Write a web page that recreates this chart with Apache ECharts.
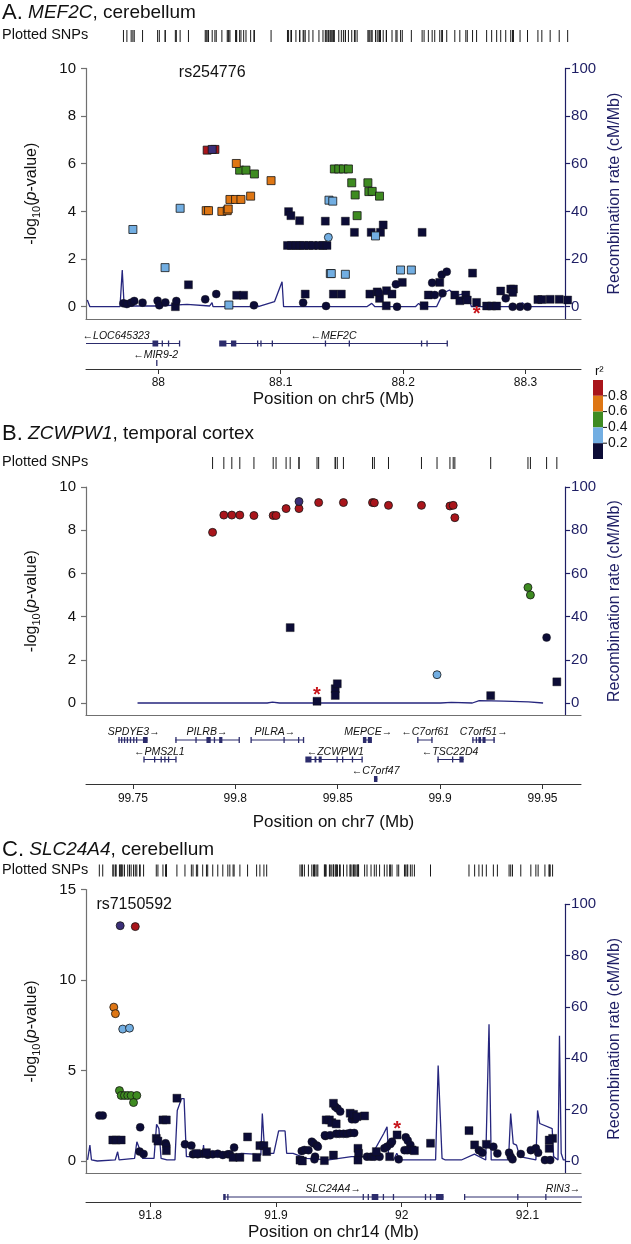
<!DOCTYPE html>
<html><head><meta charset="utf-8">
<script src="https://cdn.jsdelivr.net/npm/echarts@6/dist/echarts.min.js"></script>
<style>html,body{margin:0;padding:0;background:#fff}#c{width:631px;height:1244px}</style>
</head><body><div id="c"></div>
<script>
// ---------------- DATA ----------------
// points: [position (Mb), -log10 p, shape (1 = square, 0 = circle)]
const A_LEAD = [[88.0440, 6.60, 1]];
const A_RED = [[88.0399, 6.57, 1], [88.0462, 6.60, 1]];
const A_ORANGE = [[88.0637,6.01,1],[88.0921,5.29,1],[88.0585,4.50,1],[88.0631,4.50,1],[88.0675,4.50,1],[88.0754,4.64,1],[88.0391,4.03,1],[88.0410,4.03,1],[88.0519,4.00,1],[88.0563,4.03,1],[88.0571,4.10,1]];
const A_GREEN = [[88.0664,5.73,1],[88.0716,5.73,1],[88.0785,5.57,1],[88.1438,5.78,1],[88.1474,5.78,1],[88.1512,5.78,1],[88.1553,5.78,1],[88.1580,5.20,1],[88.1608,4.69,1],[88.1624,3.82,1],[88.1712,5.20,1],[88.1720,4.83,1],[88.1747,4.84,1],[88.1807,4.64,1]];
const A_BLUE = [[87.9792,3.24,1],[88.0178,4.13,1],[88.0055,1.64,1],[88.0576,0.07,1],[88.1394,4.47,1],[88.1425,4.43,1],[88.1405,1.39,1],[88.1413,1.39,1],[88.1528,1.36,1],[88.1774,2.97,1],[88.1979,1.54,1],[88.2067,1.54,1],[88.1389,2.91,0]];
const A_NAVY = [[88.1064,3.99,1],[88.1083,3.82,1],[88.1154,3.61,1],[88.1364,3.59,1],[88.1528,3.59,1],[88.1602,3.12,1],[88.1739,3.12,1],[88.1815,3.12,1],[88.2155,3.12,1],[88.1837,3.43,1],
 [88.1055,2.57,1],[88.1088,2.57,1],[88.1124,2.57,1],[88.1156,2.57,1],[88.1189,2.57,1],[88.1230,2.57,1],[88.1263,2.57,1],[88.1312,2.57,1],[88.1345,2.57,1],[88.1378,2.57,1],
 [88.0246,0.92,1],[88.0640,0.48,1],[88.0697,0.48,1],[88.0139,0.00,1],[88.1200,0.53,1],[88.1430,0.53,1],[88.1495,0.53,1],[88.1728,0.53,1],[88.1788,0.62,1],[88.1807,0.35,1],[88.1864,0.67,1],[88.1909,0.53,1],[88.1993,1.02,1],[88.1862,0.04,1],[88.2171,0.04,1],[88.2206,0.49,1],[88.2299,1.02,1],[88.2422,0.49,1],[88.2463,0.25,1],[88.2512,0.49,1],[88.2524,0.28,1],[88.2567,1.41,1],[88.2600,0.18,1],[88.2682,0.03,1],[88.2723,0.03,1],[88.2764,0.03,1],[88.2797,0.66,1],[88.2879,0.74,1],[88.2901,0.74,1],[88.2895,0.60,1],[88.3101,0.30,1],[88.3133,0.30,1],[88.3201,0.31,1],[88.3275,0.31,1],[88.3344,0.28,1],
 [87.9715,0.14,0],[87.9743,0.11,0],[87.9778,0.17,0],[87.9803,0.24,0],[87.9871,0.17,0],[87.9994,0.25,0],[88.0008,0.06,0],[88.0057,0.18,0],[88.0147,0.24,0],[88.0383,0.31,0],[88.0473,0.53,0],[88.0781,0.06,0],[88.1183,0.17,0],[88.1370,0.03,0],[88.1802,0.59,0],[88.1941,0.94,0],[88.2237,1.00,0],[88.2258,0.49,0],[88.2321,0.56,0],[88.2315,1.34,0],[88.2356,1.47,0],[88.1950,0.00,0],[88.2838,0.35,0],[88.2895,0.00,0],[88.2955,0.00,0],[88.3016,0.00,0]];
const A_STAR = [[88.2600, -0.17]];
const A_RECOMB = [[87.9420,2.8],[87.9442,0],[87.9696,0],[87.9715,15.4],[87.9731,0.3],[88.0016,0.3],[88.0262,1.0],[88.0453,0.3],[88.0473,1.7],[88.0481,0],[88.0836,0],[88.0850,1.4],[88.0863,0],[88.1000,2.1],[88.1064,10.5],[88.1077,0],[88.1779,0],[88.1821,1.4],[88.1848,0],[88.2190,0],[88.2217,1.4],[88.2245,0],[88.2368,0],[88.2422,5.6],[88.2477,7.0],[88.2532,4.6],[88.2586,5.3],[88.2627,5.6],[88.2663,0],[88.3051,0],[88.3092,1.7],[88.3133,0],[88.3450,0]];
const A_GENES = [
 {name:'LOC645323', start:87.9409, end:88.0173, strand:-1, row:0, label:87.9655, exons:[[87.9957,87.9999],[88.0032,88.0032],[88.0083,88.0083],[88.0173,88.0173]]},
 {name:'MIR9-2', start:87.9987, end:87.9989, strand:-1, row:1, label:87.9978, exons:[[87.9987,87.9989]]},
 {name:'MEF2C', start:88.0502, end:88.2360, strand:-1, row:0, label:88.1431, exons:[[88.0502,88.0556],[88.0598,88.0637],[88.0811,88.0811],[88.0838,88.0838],[88.0931,88.0931],[88.1365,88.1365],[88.1560,88.1560],[88.2150,88.2150],[88.2195,88.2195],[88.2360,88.2360]]}
];

const B_LEAD = [[99.8311, 9.33, 0]];
const B_RED = [[99.7889,7.90,0],[99.7944,8.70,0],[99.7983,8.70,0],[99.8022,8.70,0],[99.8091,8.68,0],[99.8185,8.68,0],[99.8199,8.68,0],[99.8248,9.00,0],[99.8311,9.00,0],[99.8407,9.28,0],[99.8528,9.28,0],[99.8670,9.28,0],[99.8679,9.27,0],[99.8748,9.15,0],[99.8909,9.15,0],[99.9048,9.12,0],[99.9064,9.15,0],[99.9072,8.58,0]];
const B_ORANGE = [];
const B_GREEN = [[99.9429,5.35,0],[99.9441,5.00,0]];
const B_BLUE = [[99.8985,1.31,0]];
const B_NAVY = [[99.8268,3.49,1],[99.8399,0.08,1],[99.8488,0.66,1],[99.8488,0.35,1],[99.8498,0.89,1],[99.9247,0.34,1],[99.9520,3.03,0],[99.9570,0.98,1]];
const B_STAR = [[99.8399, 0.54]];
const B_RECOMB = [[99.7531,0],[99.8185,0],[99.8212,0.4],[99.8247,0],[99.9060,0],[99.9114,0.3],[99.9220,0],[99.9255,1.1],[99.9379,0.9],[99.9503,0.5],[99.9577,0]];
const B_GENES = [
 {name:'SPDYE3', start:99.7427, end:99.7572, strand:1, row:0, label:99.7504, exons:[[99.7432,99.7432],[99.7445,99.7445],[99.7459,99.7459],[99.7473,99.7473],[99.7488,99.7488],[99.7504,99.7504],[99.7518,99.7518],[99.7552,99.7572]]},
 {name:'PILRB', start:99.7706, end:99.8019, strand:1, row:0, label:99.7862, exons:[[99.7710,99.7710],[99.7808,99.7808],[99.7862,99.7880],[99.7898,99.7898],[99.7924,99.7937],[99.8019,99.8019]]},
 {name:'PILRA', start:99.8077, end:99.8333, strand:1, row:0, label:99.8193, exons:[[99.8077,99.8077],[99.8238,99.8238],[99.8309,99.8309],[99.8333,99.8333]]},
 {name:'MEPCE', start:99.8626, end:99.8667, strand:1, row:0, label:99.8649, exons:[[99.8626,99.8640],[99.8650,99.8667]]},
 {name:'C7orf61', start:99.8891, end:99.8963, strand:-1, row:0, label:99.8927, exons:[[99.8891,99.8891],[99.8960,99.8963]]},
 {name:'C7orf51', start:99.9156, end:99.9267, strand:1, row:0, label:99.9213, exons:[[99.9160,99.9160],[99.9177,99.9180],[99.9190,99.9200],[99.9210,99.9222],[99.9263,99.9267]]},
 {name:'PMS2L1', start:99.7554, end:99.7710, strand:-1, row:1, label:99.7629, exons:[[99.7554,99.7554],[99.7606,99.7606],[99.7638,99.7638],[99.7656,99.7656],[99.7674,99.7674],[99.7710,99.7710]]},
 {name:'ZCWPW1', start:99.8345, end:99.8619, strand:-1, row:1, label:99.8488, exons:[[99.8345,99.8372],[99.8390,99.8396],[99.8410,99.8422],[99.8497,99.8497],[99.8524,99.8524],[99.8572,99.8572],[99.8619,99.8619]]},
 {name:'TSC22D4', start:99.8986, end:99.9115, strand:-1, row:1, label:99.9049, exons:[[99.8990,99.8990],[99.9061,99.9061],[99.9097,99.9115]]},
 {name:'C7orf47', start:99.8680, end:99.8694, strand:-1, row:2, label:99.8685, exons:[[99.8680,99.8694]]}
];

const C_LEAD = [[91.7761, 13.00, 0]];
const C_RED = [[91.7881, 12.95, 0]];
const C_ORANGE = [[91.7710,8.50,0],[91.7723,8.14,0]];
const C_GREEN = [[91.7755,3.89,0],[91.7769,3.62,0],[91.7795,3.62,0],[91.7821,3.62,0],[91.7848,3.62,0],[91.7893,3.62,0],[91.7867,3.23,0]];
const C_BLUE = [[91.7781,7.29,0],[91.7835,7.34,0]];
const C_NAVY = [[91.7595,2.51,0],[91.7622,2.51,0],[91.7920,1.86,0],[91.7915,0.52,0],[91.7947,0.39,0],[91.8122,0.98,0],[91.8128,0.85,0],[91.8276,0.92,0],[91.8327,0.85,0],[91.8340,0.37,0],[91.8377,0.37,0],[91.8417,0.40,0],[91.8457,0.35,0],[91.8497,0.37,0],[91.8537,0.40,0],[91.8577,0.33,0],[91.8617,0.37,0],[91.8667,0.74,0],[91.8633,0.37,0],
 [91.9205,0.55,0],[91.9226,0.61,0],[91.9258,0.60,0],[91.9285,1.07,0],[91.9298,0.98,0],[91.9311,0.24,0],[91.9325,0.85,0],[91.9306,0.09,0],[91.9333,0.79,0],[91.9393,1.38,0],[91.9389,1.42,0],[91.9431,1.42,0],[91.9471,3.00,0],[91.9489,2.90,0],[91.9511,2.73,0],[91.9479,1.50,0],[91.9505,1.50,0],[91.9537,1.50,0],[91.9564,1.50,0],[91.9590,1.55,0],[91.9622,1.55,0],[91.9604,2.30,0],[91.9630,2.30,0],
 [91.9724,0.24,0],[91.9756,0.24,0],[91.9782,0.24,0],[91.9824,0.24,0],[91.9862,0.70,0],[91.9883,0.79,0],[91.9910,0.94,0],[91.9923,1.07,0],[91.9976,0.09,0],[92.0032,1.31,0],[92.0048,1.13,0],[92.0069,0.89,0],[92.0022,0.60,0],[92.0043,0.60,0],[92.0614,0.60,0],[92.0641,0.46,0],[92.0729,0.79,0],[92.0761,0.42,0],[92.0854,0.46,0],[92.0867,0.24,0],[92.0881,0.09,0],[92.0947,0.39,0],[92.1027,0.60,0],[92.1067,0.70,0],[92.1085,0.46,0],[92.1139,0.05,0],[92.1181,0.05,0],
 [91.7702,1.16,1],[91.7729,1.16,1],[91.7769,1.16,1],[91.8212,3.47,1],[91.8101,2.27,1],[91.8128,2.27,1],[91.8048,1.25,1],[91.8061,1.10,1],[91.8128,0.57,1],[91.8367,0.42,1],[91.8447,0.46,1],[91.8659,0.20,1],[91.8713,0.20,1],[91.8774,1.33,1],[91.8846,0.20,1],[91.8872,0.85,1],[91.8904,0.85,1],[91.8926,0.52,1],[91.9191,0.05,1],[91.9210,0.00,1],[91.9385,0.02,1],[91.9457,3.19,1],[91.9399,2.27,1],[91.9425,2.27,1],[91.9444,2.12,1],[91.9479,2.05,1],[91.9457,0.33,1],[91.9590,2.64,1],[91.9617,2.58,1],[91.9644,2.45,1],[91.9705,2.49,1],[91.9652,0.70,1],[91.9657,0.42,1],[91.9652,0.05,1],[91.9798,0.52,1],[91.9904,0.24,1],[91.9963,1.44,1],[92.0083,0.61,1],[92.0101,0.57,1],[92.0229,0.98,1],[92.0535,1.68,1],[92.0580,0.89,1],[92.0673,0.92,1],[92.1173,0.70,1],[92.1200,1.25,1],[92.1173,1.16,1]];
const C_STAR = [[91.9963, 1.96]];
const C_RECOMB = [[91.7502,0.4],[91.7521,6.2],[91.7534,0.4],[91.7582,0],[91.7729,0.4],[91.7749,3.6],[91.7761,0.4],[91.7888,1],[91.7907,7.5],[91.7928,4.9],[91.7955,1],[91.8048,1],[91.8069,14.3],[91.8088,12.6],[91.8106,1],[91.8154,0.4],[91.8220,0.4],[91.8239,19.7],[91.8255,19.1],[91.8274,24.3],[91.8295,24.3],[91.8314,1.7],[91.8447,1.7],[91.8455,6.2],[91.8463,1.7],[91.8659,1.7],[91.8766,3],[91.8872,2.7],[91.8926,2.3],[91.8938,18.5],[91.8958,3],[91.9032,3],[91.9072,11.7],[91.9125,11.7],[91.9138,3],[91.9191,3],[91.9298,1],[91.9484,0.4],[91.9670,1.7],[91.9830,1.7],[91.9936,10.7],[91.9963,13.3],[91.9976,1.7],[92.0016,0.4],[92.0043,3],[92.0069,0.4],[92.0362,0.4],[92.0383,37.2],[92.0415,1],[92.0442,0.4],[92.0574,0.4],[92.0681,2.7],[92.0774,0.4],[92.0801,53.3],[92.0819,0.4],[92.0961,0.4],[92.0979,18.5],[92.1000,6.8],[92.1027,6.2],[92.1053,1.7],[92.1186,0.4],[92.1200,19.7],[92.1218,14.6],[92.1320,12.6],[92.1332,1.7],[92.1368,0.4],[92.1380,48.8],[92.1394,3],[92.1412,0.4],[92.1430,0.4]];
const C_GENES = [
 {name:'SLC24A4', start:91.8585, end:92.0333, strand:1, row:0, label:91.9455, exons:[[91.8585,91.8600],[91.8617,91.8617],[91.9694,91.9694],[91.9734,91.9734],[91.9766,91.9814],[91.9854,91.9854],[91.9934,91.9934],[92.0189,92.0189],[92.0229,92.0229],[92.0277,92.0333]]},
 {name:'RIN3', start:92.0500, end:92.1434, strand:1, row:0, label:92.1283, exons:[[92.0500,92.0500],[92.0923,92.0923],[92.1146,92.1146]]}
];

const A_XTICKS = [88, 88.1, 88.2, 88.3];
const B_XTICKS = [99.75, 99.8, 99.85, 99.9, 99.95];
const C_XTICKS = [91.8, 91.9, 92, 92.1];
const A_YTICKS = [0, 2, 4, 6, 8, 10];
const B_YTICKS = [0, 2, 4, 6, 8, 10];
const C_YTICKS = [0, 5, 10, 15];
const REC_TICKS = [0, 20, 40, 60, 80, 100];
const LEGEND_TICKS = ['0.8', '0.6', '0.4', '0.2'];
const LEAD_NAMES = ['rs254776', 'rs10241492', 'rs7150592'];

// ---------------- STYLE / LAYOUT ----------------
const FONT = '"Liberation Sans", Arial, Helvetica, sans-serif';
const H = 1244, LEFT = 86, RIGHT = 50;
const LD_COLORS = ['#0c0c36', '#72aee2', '#3e8b21', '#de7614', '#a9151b'];
const LEAD_COLOR = '#3b2f78';
const NAVY_AXIS = '#1e1e64';
const REC_COLOR = '#26267e';
const GENE_COLOR = '#2c2c6c';

const PANELS = [
 {title:'{b|A.} {i|MEF2C}{t|, cerebellum}', chr:'chr5', xMin:87.9409, xMax:88.3453, xTicks:A_XTICKS, yTicks:A_YTICKS, yMax:10,
  lead:A_LEAD, cls:[A_NAVY, A_BLUE, A_GREEN, A_ORANGE, A_RED], star:A_STAR, rec:A_RECOMB, genes:A_GENES,
  titleTop:2, snpY:36, top:68.4, zero:306.7, bottom:319, recTop:68.4, geneTop:343.5, geneStep:19.5, geneAxis:369, tickMargin:8, nameGap:22, labelY:9.82, labelShift:0},
 {title:'{b|B.} {i|ZCWPW1}{t|, temporal cortex}', chr:'chr7', xMin:99.7271, xMax:99.9688, xTicks:B_XTICKS, yTicks:B_YTICKS, yMax:10,
  lead:B_LEAD, cls:[B_NAVY, B_BLUE, B_GREEN, B_ORANGE, B_RED], star:B_STAR, rec:B_RECOMB, genes:B_GENES,
  titleTop:423, snpY:463, top:487, zero:703, bottom:715.3, recTop:487, geneTop:740, geneStep:19.5, geneAxis:784, tickMargin:9, nameGap:30, labelY:10.07, labelShift:0},
 {title:'{b|C.} {i|SLC24A4}{t|, cerebellum}', chr:'chr14', xMin:91.7489, xMax:92.1426, xTicks:C_XTICKS, yTicks:C_YTICKS, yMax:15,
  lead:C_LEAD, cls:[C_NAVY, C_BLUE, C_GREEN, C_ORANGE, C_RED], star:C_STAR, rec:C_RECOMB, genes:C_GENES,
  titleTop:839, snpY:870.5, top:889.5, zero:1161, bottom:1173.3, recTop:904.3, geneTop:1197, geneStep:20, geneAxis:1202, tickMargin:8, nameGap:22, labelY:14.15, labelShift:14}
];

const option = {animation:false, backgroundColor:'#ffffff', textStyle:{fontFamily:FONT}, title:[], grid:[], xAxis:[], yAxis:[], series:[], graphic:[]};

PANELS.forEach((p, i) => {
  const g0 = i * 4;
  const pxU = (p.zero - p.top) / p.yMax;
  const yMin = -(p.bottom - p.zero) / pxU;
  const pxR = (p.zero - p.recTop) / 100;
  const rMin = -(p.bottom - p.zero) / pxR;

  option.title.push({text:p.title, left:2, top:p.titleTop, padding:0,
    textStyle:{fontFamily:FONT, fontSize:19, fontWeight:'normal', color:'#111',
      rich:{b:{fontSize:22, fontFamily:FONT, color:'#111'}, i:{fontSize:19, fontStyle:'italic', fontFamily:FONT, color:'#111'}, t:{fontSize:19, fontFamily:FONT, color:'#111'}}}});
  option.title.push({text:'Plotted SNPs', left:2, top:p.snpY - 8.5, padding:0,
    textStyle:{fontFamily:FONT, fontSize:14.5, fontWeight:'normal', color:'#111'}});

  option.grid.push({left:LEFT, right:RIGHT, top:p.snpY - 7, height:14});
  option.grid.push({left:LEFT, right:RIGHT, top:p.top, bottom:H - p.bottom});
  option.grid.push({left:LEFT, right:RIGHT, top:p.recTop, bottom:H - p.bottom});
  option.grid.push({left:LEFT, right:RIGHT, top:p.geneTop, bottom:H - p.geneAxis});

  option.xAxis.push({gridIndex:g0, type:'value', min:p.xMin, max:p.xMax, show:false});
  option.xAxis.push({gridIndex:g0 + 1, type:'value', min:p.xMin, max:p.xMax,
    axisLine:{show:true, onZero:false, lineStyle:{color:'#707070', width:1.2}}, axisTick:{show:false}, axisLabel:{show:false}, splitLine:{show:false}});
  option.xAxis.push({gridIndex:g0 + 2, type:'value', min:p.xMin, max:p.xMax, show:false});
  option.xAxis.push({gridIndex:g0 + 3, type:'value', min:p.xMin, max:p.xMax, position:'bottom',
    axisLine:{show:true, onZero:false, lineStyle:{color:'#333', width:1}},
    axisTick:{show:true, length:5, customValues:p.xTicks, lineStyle:{color:'#333'}},
    axisLabel:{customValues:p.xTicks, fontSize:12, margin:p.tickMargin, color:'#111', fontFamily:FONT},
    splitLine:{show:false},
    name:'Position on ' + p.chr + ' (Mb)', nameLocation:'middle', nameGap:p.nameGap,
    nameTextStyle:{fontSize:17, color:'#111', fontFamily:FONT}});

  option.yAxis.push({gridIndex:g0, type:'value', min:0, max:1, show:false});
  option.yAxis.push({gridIndex:g0 + 1, type:'value', min:yMin, max:p.yMax, position:'left',
    axisLine:{show:true, onZero:false, lineStyle:{color:'#707070', width:1.2}},
    axisTick:{show:true, length:5, customValues:p.yTicks, lineStyle:{color:'#707070', width:1.2}},
    axisLabel:{customValues:p.yTicks, margin:10, fontSize:15, color:'#111', fontFamily:FONT},
    splitLine:{show:false},
    name:'-log{s|10}({i|p}-value)', nameLocation:'middle', nameRotate:90, nameGap:44,
    nameTextStyle:{fontSize:16, color:'#111', fontFamily:FONT, lineHeight:20,
      rich:{s:{fontSize:11, fontFamily:FONT, color:'#111', verticalAlign:'bottom', lineHeight:20}, i:{fontSize:16, fontStyle:'italic', fontFamily:FONT, color:'#111'}}}});
  option.yAxis.push({gridIndex:g0 + 2, type:'value', min:rMin, max:100, position:'right',
    axisLine:{show:true, onZero:false, lineStyle:{color:NAVY_AXIS, width:1.2}},
    axisTick:{show:true, length:5, customValues:REC_TICKS, lineStyle:{color:NAVY_AXIS, width:1.2}},
    axisLabel:{customValues:REC_TICKS, margin:6, fontSize:15, color:NAVY_AXIS, fontFamily:FONT},
    splitLine:{show:false},
    name:'Recombination rate (cM/Mb)', nameLocation:'middle', nameRotate:90, nameGap:35,
    nameTextStyle:{fontSize:16, color:NAVY_AXIS, fontFamily:FONT}});
  option.yAxis.push({gridIndex:g0 + 3, type:'value', min:0, max:(p.geneAxis - p.geneTop) / p.geneStep, inverse:true, show:false});

  // plotted SNP ticks (positions of all plotted points)
  const allPos = [].concat(p.lead, ...p.cls).map(d => [d[0], 0.5]);
  option.series.push({type:'scatter', xAxisIndex:g0, yAxisIndex:g0, data:allPos, symbol:'rect', symbolSize:[1, 12],
    itemStyle:{color:'#1a1a1a', opacity:1}, silent:true});

  // recombination rate
  option.series.push({type:'line', xAxisIndex:g0 + 2, yAxisIndex:g0 + 2, data:p.rec, showSymbol:false, symbol:'none',
    lineStyle:{color:REC_COLOR, width:1.3, opacity:1}, z:1, silent:true});

  // points by LD class
  p.cls.forEach((arr, k) => {
    option.series.push({type:'scatter', xAxisIndex:g0 + 1, yAxisIndex:g0 + 1, data:arr, z:2 + k,
      symbol:(v) => v[2] === 1 ? 'rect' : 'circle', symbolSize:8,
      itemStyle:{color:LD_COLORS[k], borderColor:'#151515', borderWidth:k === 0 ? 0.4 : 0.8, opacity:1}, silent:true});
  });
  option.series.push({type:'scatter', xAxisIndex:g0 + 1, yAxisIndex:g0 + 1, data:p.lead, z:8,
    symbol:(v) => v[2] === 1 ? 'rect' : 'circle', symbolSize:8,
    itemStyle:{color:LEAD_COLOR, borderColor:'#151515', borderWidth:0.8, opacity:1}, silent:true});

  // red asterisk
  option.series.push({type:'scatter', xAxisIndex:g0 + 1, yAxisIndex:g0 + 1, data:p.star, z:9, symbolSize:1,
    itemStyle:{color:'rgba(0,0,0,0)', opacity:1}, silent:true,
    label:{show:true, formatter:'*', position:'inside', offset:[0, 4], color:'#c8161c', opacity:1, fontSize:20, fontWeight:'bold', fontFamily:FONT}});

  // lead SNP label
  option.series.push({type:'scatter', xAxisIndex:g0 + 1, yAxisIndex:g0 + 1, data:[[p.lead[0][0], p.labelY]], z:9, symbolSize:1,
    itemStyle:{color:'rgba(0,0,0,0)', opacity:1}, silent:true,
    label:{show:true, formatter:LEAD_NAMES[i], position:'inside', offset:[p.labelShift, 0], color:'#111', opacity:1, fontSize:16, fontFamily:FONT}});

  // genes
  const genes = p.genes;
  option.series.push({type:'custom', xAxisIndex:g0 + 3, yAxisIndex:g0 + 3, data:genes.map(g => [g.start, g.row]), silent:true, clip:false,
    renderItem:(params, api) => {
      const g = genes[params.dataIndex];
      const a = api.coord([g.start, g.row]);
      const b = api.coord([g.end, g.row]);
      const y = a[1];
      const ch = [{type:'line', shape:{x1:a[0], y1:y, x2:b[0], y2:y}, style:{stroke:GENE_COLOR, lineWidth:1}}];
      g.exons.forEach(e => {
        const e1 = api.coord([e[0], g.row])[0], e2 = api.coord([e[1], g.row])[0];
        ch.push({type:'rect', shape:{x:e1 - 0.6, y:y - 3, width:Math.max(1.3, e2 - e1 + 0.6), height:6}, style:{fill:GENE_COLOR}});
      });
      const lx = api.coord([g.label, g.row])[0];
      ch.push({type:'text', style:{text:g.strand > 0 ? g.name + '\u2192' : '\u2190' + g.name, x:lx, y:y - 7.5,
        align:'center', verticalAlign:'middle', font:'italic 10.5px ' + FONT, fill:'#111'}});
      return {type:'group', children:ch};
    }});
});

// r^2 legend
const LX = 593, LY = 380, LH = 15.8;
option.graphic.push({type:'text', style:{text:'r\u00b2', x:LX + 2, y:LY - 2, verticalAlign:'bottom', font:'13px ' + FONT, fill:'#111'}});
LD_COLORS.slice().reverse().forEach((c, k) => {
  option.graphic.push({type:'rect', shape:{x:LX, y:LY + k * LH, width:10, height:LH}, style:{fill:c}});
});
LEGEND_TICKS.forEach((t, k) => {
  const yy = LY + (k + 1) * LH;
  option.graphic.push({type:'line', shape:{x1:LX + 10, y1:yy, x2:LX + 14, y2:yy}, style:{stroke:'#111', lineWidth:1}});
  option.graphic.push({type:'text', style:{text:t, x:LX + 15, y:yy, verticalAlign:'middle', font:'14px ' + FONT, fill:'#111'}});
});

const chart = echarts.init(document.getElementById('c'), null, {renderer:'canvas'});
chart.setOption(option);
</script></body></html>
